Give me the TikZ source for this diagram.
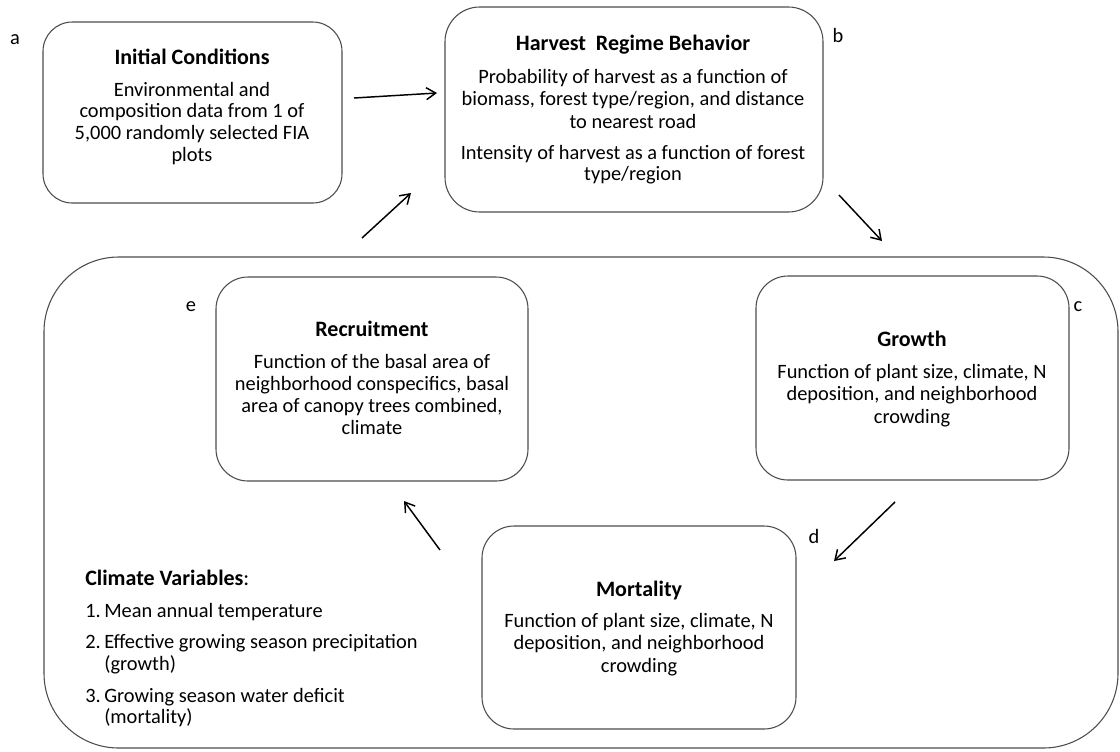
\documentclass[tikz,border=0pt]{standalone}
\usepackage{fontspec}
\setmainfont{Carlito}
\usetikzlibrary{arrows.meta,fit}
\begin{document}
\begin{tikzpicture}[x=0.75pt,y=-0.75pt,
  box/.style={draw=black!70, line width=0.8pt, rounded corners=24pt, inner sep=0pt},
  ttl/.style={font=\fontsize{16.5}{19}\selectfont\bfseries, anchor=base, inner sep=0pt},
  body/.style={font=\fontsize{15.3}{16.3}\selectfont, anchor=base, inner sep=0pt},
  lbl/.style={font=\fontsize{15.3}{16.3}\selectfont, anchor=base, inner sep=0pt},
  arr/.style={-{Straight Barb[length=7pt,width=9pt]}, line width=1.1pt}]

\path[use as bounding box, fill=white] (0,0) rectangle (1120,751);

% boxes
\node[box, rounded corners=22pt, fit={(43,22) (342,203)}] (init) {};
\node[box, rounded corners=26pt, fit={(445,7) (823,212)}] (harv) {};
\node[box, rounded corners=56pt, fit={(44,257) (1118,748)}] (outer) {};
\node[box, fit={(216,277) (528,481)}] (recr) {};
\node[box, fit={(756,276) (1069,480)}] (grow) {};
\node[box, fit={(482,526) (796,729)}] (mort) {};

% Initial conditions
\node[ttl] (initT) at (192,64) {Initial Conditions};
\foreach \t [count=\i] in {{Environmental and},{composition data from 1 of},{5,000 randomly selected FIA},{plots}}
  \node[body] (init\i) at (192,{96+21.7*(\i-1)}) {\t};

% Harvest
\node[ttl] (harvT) at (633,50) {Harvest\ \ Regime Behavior};
\foreach \t [count=\i] in {{Probability of harvest as a function of},{biomass, forest type/region, and distance},{to nearest road}}
  \node[body] (harvA\i) at (633,{83+22.5*(\i-1)}) {\t};
\foreach \t [count=\i] in {{Intensity of harvest as a function of forest},{type/region}}
  \node[body] (harvB\i) at (633,{159+21.5*(\i-1)}) {\t};

% Recruitment
\node[ttl] (recrT) at (372,336) {Recruitment};
\foreach \t [count=\i] in {{Function of the basal area of},{neighborhood conspecifics, basal},{area of canopy trees combined,},{climate}}
  \node[body] (recr\i) at (372,{368+22.3*(\i-1)}) {\t};

% Growth
\node[ttl] (growT) at (912,346) {Growth};
\foreach \t [count=\i] in {{Function of plant size, climate, N},{deposition, and neighborhood},{crowding}}
  \node[body] (grow\i) at (912,{378+22.5*(\i-1)}) {\t};

% Mortality
\node[ttl] (mortT) at (639,596) {Mortality};
\foreach \t [count=\i] in {{Function of plant size, climate, N},{deposition, and neighborhood},{crowding}}
  \node[body] (mort\i) at (639,{627+22.5*(\i-1)}) {\t};

% Climate variables
\node[ttl, anchor=base west] (climT) at (85,585) {Climate Variables\mdseries:};
\node[body, anchor=base west] (clim1n) at (85,617) {1.};
\node[body, anchor=base west] (clim1) at (104,617) {Mean annual temperature};
\node[body, anchor=base west] (clim2n) at (85,648) {2.};
\node[body, anchor=base west] (clim2) at (104,648) {Effective growing season precipitation};
\node[body, anchor=base west] (clim2b) at (104,670) {(growth)};
\node[body, anchor=base west] (clim3n) at (85,702) {3.};
\node[body, anchor=base west] (clim3) at (104,702) {Growing season water deficit};
\node[body, anchor=base west] (clim3b) at (104,723) {(mortality)};

% letters
\node[lbl] (la) at (15,44) {a};
\node[lbl] (lb) at (838,42) {b};
\node[lbl] (lc) at (1078,311) {c};
\node[lbl] (ld) at (814,543) {d};
\node[lbl] (le) at (191,311) {e};

% arrows
\coordinate (a1s) at (354,98);  \coordinate (a1e) at (437,93);
\coordinate (a2s) at (362,238); \coordinate (a2e) at (411,193);
\coordinate (a3s) at (839,195); \coordinate (a3e) at (882,241);
\coordinate (a4s) at (895,502); \coordinate (a4e) at (834,561);
\coordinate (a5s) at (440,550); \coordinate (a5e) at (404,501);
\draw[arr] (a1s) -- (a1e);
\draw[arr] (a2s) -- (a2e);
\draw[arr] (a3s) -- (a3e);
\draw[arr] (a4s) -- (a4e);
\draw[arr] (a5s) -- (a5e);
\end{tikzpicture}
\end{document}
